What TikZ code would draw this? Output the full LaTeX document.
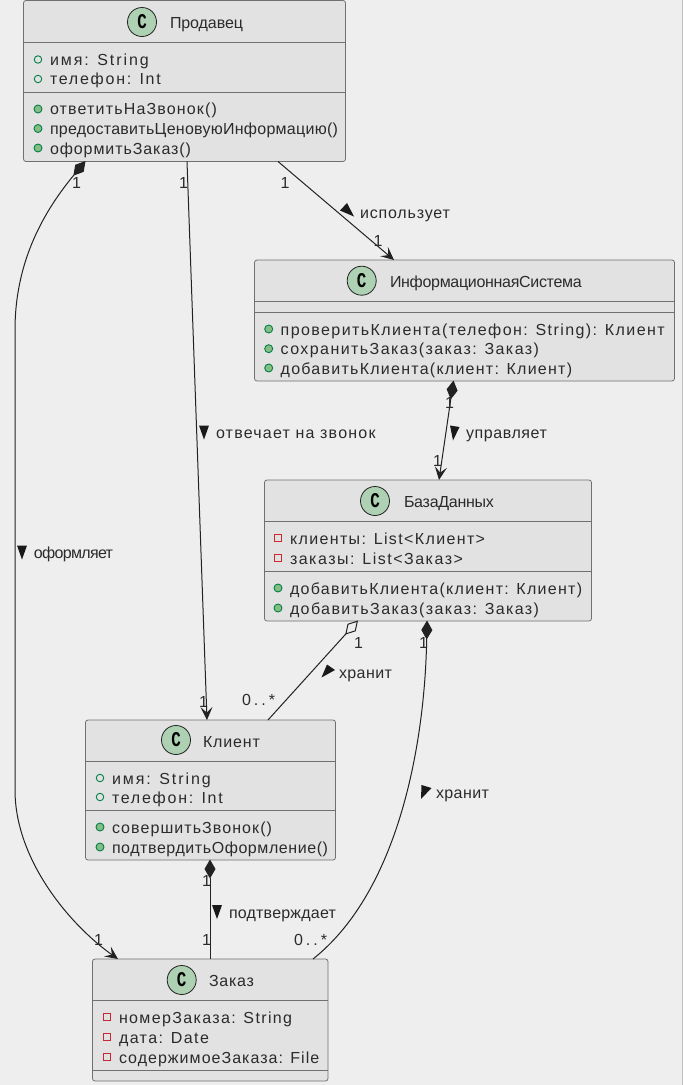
\documentclass[tikz,border=0pt]{standalone}
\usepackage{fontspec}
\usepackage{graphicx}
\usepackage{xstring}
\setmainfont{Liberation Sans}
\newfontfamily\cfont{Liberation Mono}
\usetikzlibrary{arrows.meta,calc}
\definecolor{bgc}{HTML}{EEEEEE}
\definecolor{boxc}{HTML}{E2E2E2}
\definecolor{edgec}{HTML}{707070}
\definecolor{inkc}{HTML}{2B2B2B}
\definecolor{linec}{HTML}{222222}
\definecolor{spotfill}{HTML}{ADD1B2}
\definecolor{pubc}{HTML}{038048}
\definecolor{pubf}{HTML}{84BE84}
\definecolor{privc}{HTML}{C82930}
\tikzset{
  classbox/.style={draw=edgec,fill=boxc,line width=0.8pt,rounded corners=2.5pt,anchor=north west,inner sep=0pt,outer sep=0pt},
  sepline/.style={draw=edgec,line width=0.9pt},
  txt/.style={inner sep=0pt,outer sep=0pt,anchor=base west,text=inkc},
  spot/.style={circle,draw=linec,fill=spotfill,line width=0.8pt,minimum size=29pt,inner sep=0pt},
  pubfield/.style={circle,draw=pubc,fill=none,line width=0.9pt,minimum size=7.5pt,inner sep=0pt},
  pubmethod/.style={circle,draw=pubc,fill=pubf,line width=0.9pt,minimum size=8pt,inner sep=0pt},
  privfield/.style={rectangle,draw=privc,fill=none,line width=0.9pt,minimum size=7pt,inner sep=0pt},
  conn/.style={draw=linec,line width=1pt},
  tri/.style={fill=black!90,draw=none},
  headtip/.tip={Stealth[length=13pt,width=12pt,inset=5.5pt,fill=linec]},
  fulldia/.tip={Diamond[length=19pt,width=11pt,fill=linec]},
  opendia/.tip={Diamond[length=19pt,width=11pt,fill=bgc]},
}
\newlength\tlnat
\newcommand{\tl}[5]{%
  \pgfmathsetmacro{\yb}{#4+6}%
  \node[txt] (#1) at (#2,\yb) {\fontsize{16}{18}\selectfont
    \settowidth\tlnat{#5}%
    \StrLen{#5}[\tln]%
    \pgfmathsetmacro{\tlsp}{(#3-#2-\tlnat/1pt)/(max(\tln-1,1)*16)*100}%
    \addfontfeature{LetterSpace=\tlsp}#5};}
\newcommand{\spotmark}[3]{\node[spot] (#1) at (#2,#3) {\resizebox{9.5pt}{14pt}{\cfont\bfseries C}};}
\begin{document}
\begin{tikzpicture}[x=1pt,y=-1pt]
\useasboundingbox (0,0) rectangle (683,1085);
\fill[bgc] (0,0) rectangle (683,1085);
\fill[black!25] (681.8,0) rectangle (683,1085);

% Classes
\node[classbox,minimum width=322pt,minimum height=161pt] (prod) at (23.5,0.5) {};
\node[classbox,minimum width=420pt,minimum height=121pt] (info) at (254.5,260) {};
\node[classbox,minimum width=327pt,minimum height=141pt] (bd) at (264.5,480) {};
\node[classbox,minimum width=250pt,minimum height=140pt] (kl) at (85.5,720) {};
\node[classbox,minimum width=235.5pt,minimum height=122pt] (zak) at (92.5,959) {};

% Separators
\foreach \b/\y in {prod/42.5,prod/92,info/301.5,info/312,bd/521.5,bd/571,kl/761,kl/810,zak/1000.7,zak/1070}
  \draw[sepline] (\b.west |- 0,\y) -- (\b.east |- 0,\y);

% Продавец
\spotmark{sa}{142}{22}
\tl{ta}{170}{243}{22}{Продавец}
\node[pubfield] (a1m) at (38,59.5) {}; \tl{a1}{50}{150}{59}{имя: String}
\node[pubfield] (a2m) at (38,79) {}; \tl{a2}{50}{162}{78.5}{телефон: Int}
\node[pubmethod] (a3m) at (38,109) {}; \tl{a3}{50}{217}{108.5}{ответитьНаЗвонок()}
\node[pubmethod] (a4m) at (38,128.5) {}; \tl{a4}{50}{338}{128}{предоставитьЦеновуюИнформацию()}
\node[pubmethod] (a5m) at (38,148) {}; \tl{a5}{50}{191}{148}{оформитьЗаказ()}

% ИнформационнаяСистема
\spotmark{sb}{361.7}{280.7}
\tl{tb}{390}{581.7}{281}{ИнформационнаяСистема}
\node[pubmethod] (b1m) at (268.7,329) {}; \tl{b1}{280.7}{666.7}{329}{проверитьКлиента(телефон: String): Клиент}
\node[pubmethod] (b2m) at (268.7,348.7) {}; \tl{b2}{280.7}{540}{348.5}{сохранитьЗаказ(заказ: Заказ)}
\node[pubmethod] (b3m) at (268.7,368) {}; \tl{b3}{280.7}{573}{368}{добавитьКлиента(клиент: Клиент)}

% БазаДанных
\spotmark{sc}{375}{501}
\tl{tc}{404}{494}{501}{БазаДанных}
\node[privfield] (c1m) at (278,538) {}; \tl{c1}{290}{486}{538}{клиенты: List<Клиент>}
\node[privfield] (c2m) at (278,558) {}; \tl{c2}{290}{464}{558}{заказы: List<Заказ>}
\node[pubmethod] (c3m) at (278,588) {}; \tl{c3}{290}{583}{588}{добавитьКлиента(клиент: Клиент)}
\node[pubmethod] (c4m) at (278,608) {}; \tl{c4}{290}{540}{608}{добавитьЗаказ(заказ: Заказ)}

% Клиент
\spotmark{sd}{176}{740}
\tl{td}{203}{260}{741}{Клиент}
\node[pubfield] (d1m) at (100,778) {}; \tl{d1}{112}{212}{778}{имя: String}
\node[pubfield] (d2m) at (100,797) {}; \tl{d2}{112}{224}{797}{телефон: Int}
\node[pubmethod] (d3m) at (100,827) {}; \tl{d3}{112}{272}{827}{совершитьЗвонок()}
\node[pubmethod] (d4m) at (100,847) {}; \tl{d4}{112}{328}{847}{подтвердитьОформление()}

% Заказ
\spotmark{se}{181.7}{980}
\tl{te}{209}{254}{980.5}{Заказ}
\node[privfield] (e1m) at (107,1017) {}; \tl{e1}{119}{293}{1017}{номерЗаказа: String}
\node[privfield] (e2m) at (107,1037) {}; \tl{e2}{119}{210}{1037}{дата: Date}
\node[privfield] (e3m) at (107,1057) {}; \tl{e3}{119}{320}{1057}{содержимоеЗаказа: File}

% Connectors
\draw[conn,-headtip] ([xshift=254.5pt]prod.south west) -- ([xshift=139.5pt]info.north west);
\draw[conn,-headtip] ([xshift=163.5pt]prod.south west) -- ([xshift=121.5pt]kl.north west);
\draw[conn,fulldia-headtip]
  ([xshift=62pt,yshift=0.5pt]prod.south west) .. controls (45,210) and (15,260) .. (15,330)
  -- (15,790) .. controls (15,860) and (70,925) .. ([xshift=25.5pt]zak.north west);
\draw[conn,fulldia-headtip]
  ([xshift=199pt,yshift=0.5pt]info.south west) -- ([xshift=174.5pt]bd.north west);
\draw[conn,opendia-]
  ([xshift=93.5pt,yshift=0.5pt]bd.south west) -- ([xshift=182.5pt]kl.north west);
\draw[conn,fulldia-]
  ([xshift=162.5pt,yshift=0.5pt]bd.south west) .. controls (425,740) and (400,890) .. ([xshift=220.5pt]zak.north west);
\draw[conn,fulldia-]
  ([xshift=124.5pt,yshift=0.5pt]kl.south west) -- ([xshift=117.5pt]zak.north west);

% Link labels and direction triangles
\tl{l1}{360}{450}{212}{использует}
\fill[tri] (340,210.5) -- (347,203) -- (354,216.5) -- cycle;
\tl{l2}{216}{378}{432}{отвечает на звонок}
\fill[tri] (199,425.5) -- (209,425.5) -- (204,439.5) -- cycle;
\tl{l3}{466}{547}{432}{управляет}
\fill[tri] (450,425.5) -- (459.5,427) -- (453,440.5) -- cycle;
\tl{l4}{34}{113}{552}{оформляет}
\fill[tri] (17,545.5) -- (27,545.5) -- (22,559.5) -- cycle;
\tl{l5}{339}{392}{672}{хранит}
\fill[tri] (321.5,677.5) -- (327,664.5) -- (335,670) -- cycle;
\tl{l6}{436}{489}{792}{хранит}
\fill[tri] (421,799) -- (421.5,785) -- (431.5,788) -- cycle;
\tl{l7}{229}{336}{912}{подтверждает}
\fill[tri] (212,905) -- (222,905) -- (217,919) -- cycle;

% Multiplicities
\tl{m1}{72}{79}{182}{1}
\tl{m2}{179}{186}{182}{1}
\tl{m3}{280.5}{287.5}{182}{1}
\tl{m4}{373.5}{380.5}{240}{1}
\tl{m5}{445}{452}{402}{1}
\tl{m6}{433}{440}{460}{1}
\tl{m7}{199}{206}{701}{1}
\tl{m8}{354}{361}{642}{1}
\tl{m9}{419}{426}{642}{1}
\tl{m10}{242}{275}{699}{0..*}
\tl{m11}{294}{327}{939}{0..*}
\tl{m12}{202}{209}{880}{1}
\tl{m13}{202}{209}{939}{1}
\tl{m14}{94}{101}{939}{1}
\end{tikzpicture}
\end{document}
